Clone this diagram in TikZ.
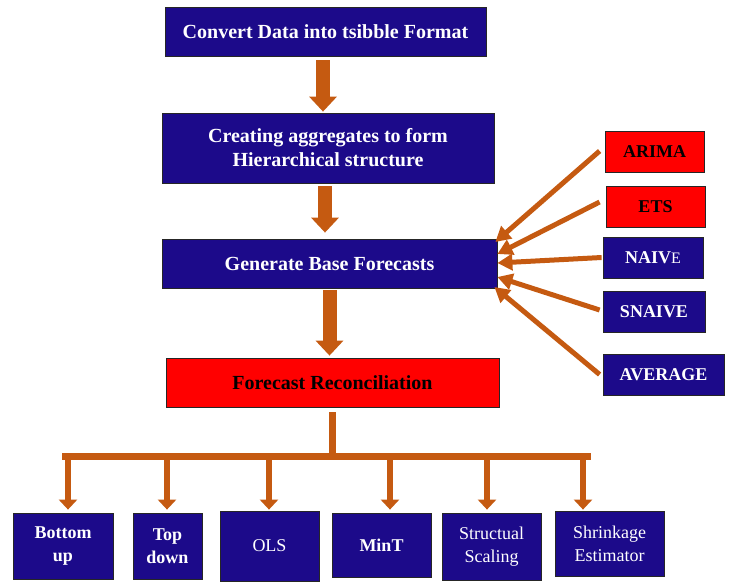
\documentclass[tikz,border=0pt]{standalone}
\usepackage{fontspec}
\setmainfont{Liberation Serif}
\usetikzlibrary{arrows.meta}
\definecolor{navyc}{RGB}{28,10,138}
\definecolor{redc}{RGB}{255,0,0}
\definecolor{arrc}{RGB}{197,90,17}
\tikzset{
  boxbase/.style={draw=black!85, line width=0.8pt, inner sep=0pt, align=center, anchor=center},
  navybox/.style={boxbase, fill=navyc, text=white},
  redbox/.style={boxbase, fill=redc, text=black},
  bigtxt/.style={font=\bfseries\fontsize{20}{24}\selectfont},
  medtxt/.style={font=\bfseries\fontsize{18}{23}\selectfont},
  regtxt/.style={font=\fontsize{18}{23}\selectfont},
  blockarrow/.style={draw=arrc, line width=14pt, -{Triangle[length=15pt,width=27pt]}},
  sidearrow/.style={draw=arrc, line width=5pt, -{Triangle[length=15pt,width=16pt]}},
  busline/.style={draw=arrc, line width=7pt, line cap=rect},
  droparrow/.style={draw=arrc, line width=6.5pt, -{Triangle[length=10pt,width=18pt]}},
}
\begin{document}
\begin{tikzpicture}[x=1pt,y=-1pt]
\useasboundingbox (0,0) rectangle (741,588);
% main column
\node[navybox,bigtxt,minimum width=321pt,minimum height=49pt] (conv) at (325.5,31.5) {Convert Data into tsibble Format};
\node[navybox,bigtxt,minimum width=332pt,minimum height=70pt] (create) at (328,148) {Creating aggregates to form\\Hierarchical structure};
\node[navybox,bigtxt,minimum width=335pt,minimum height=49pt] (gen) at (329.5,263.5) {Generate Base Forecasts};
\node[redbox,bigtxt,minimum width=333pt,minimum height=49pt] (recon) at (332.5,382.5) {Forecast Reconciliation};
% right column
\node[redbox,medtxt,minimum width=99pt,minimum height=41pt] (arima) at (654.5,151.5) {ARIMA};
\node[redbox,medtxt,minimum width=99pt,minimum height=41pt] (ets) at (655.5,206.5) {ETS};
\node[navybox,medtxt,minimum width=100pt,minimum height=41pt] (naive) at (653,257.5) {NAIV{\mdseries\fontsize{16}{16}\selectfont E}};
\node[navybox,medtxt,minimum width=102pt,minimum height=41pt] (snaive) at (654,311.5) {SNAIVE};
\node[navybox,medtxt,minimum width=121pt,minimum height=41pt] (average) at (663.5,374.5) {AVERAGE};
% bottom row
\node[navybox,medtxt,minimum width=100pt,minimum height=66pt] (bu) at (63,546) {Bottom\\up};
\node[navybox,medtxt,minimum width=69pt,minimum height=66pt] (td) at (167.5,546) {Top\\down};
\node[navybox,regtxt,minimum width=99pt,minimum height=70pt] (ols) at (269.5,546) {OLS};
\node[navybox,medtxt,minimum width=99pt,minimum height=64pt] (mint) at (381.5,545) {MinT};
\node[navybox,regtxt,minimum width=99pt,minimum height=67pt] (ss) at (491.5,546.5) {Structual\\Scaling};
\node[navybox,regtxt,minimum width=109pt,minimum height=65pt] (se) at (609.5,543.5) {Shrinkage\\Estimator};
% main arrows
\coordinate (a1) at ([xshift=-2.5pt,yshift=-4pt]conv.south);
\coordinate (a2) at ([xshift=-3pt,yshift=-3pt]create.south);
\coordinate (a3) at ([yshift=-2pt]gen.south);
\draw[blockarrow] (a1) -- ([yshift=1pt]a1 |- create.north);
\draw[blockarrow] (a2) -- ([yshift=6pt]a2 |- gen.north);
\draw[blockarrow] (a3) -- ([yshift=2pt]a3 |- recon.north);
% side arrows
\draw[sidearrow] ([yshift=0.5pt,xshift=-5pt]arima.west) -- ([yshift=21.5pt,xshift=-2pt]gen.east);
\draw[sidearrow] ([yshift=4.5pt,xshift=-6pt]ets.west) -- ([yshift=9.5pt]gen.east);
\draw[sidearrow] ([xshift=-1pt]naive.west) -- ([yshift=0.5pt]gen.east);
\draw[sidearrow] ([yshift=1.5pt,xshift=-3pt]snaive.west) -- ([yshift=-13.5pt]gen.east);
\draw[sidearrow] ([xshift=-3pt]average.west) -- ([yshift=-23.5pt,xshift=-3pt]gen.east);
% bus
\coordinate (busL) at (65,456);
\coordinate (busR) at (587,456);
\draw[busline] ([yshift=-8.5pt]recon.south) -- (recon.south |- busL);
\draw[busline] (busL) -- (busR);
\coordinate (d1) at (68,456);
\coordinate (d2) at (167,456);
\coordinate (d3) at (269,456);
\coordinate (d4) at (390,456);
\coordinate (d5) at (487,456);
\coordinate (d6) at (583,456);
\draw[droparrow] (d1) -- ([yshift=3pt]d1 |- bu.north);
\draw[droparrow] (d2) -- ([yshift=3pt]d2 |- td.north);
\draw[droparrow] (d3) -- ([yshift=1pt]d3 |- ols.north);
\draw[droparrow] (d4) -- ([yshift=3pt]d4 |- mint.north);
\draw[droparrow] (d5) -- ([yshift=3pt]d5 |- ss.north);
\draw[droparrow] (d6) -- ([yshift=1pt]d6 |- se.north);
\end{tikzpicture}
\end{document}
